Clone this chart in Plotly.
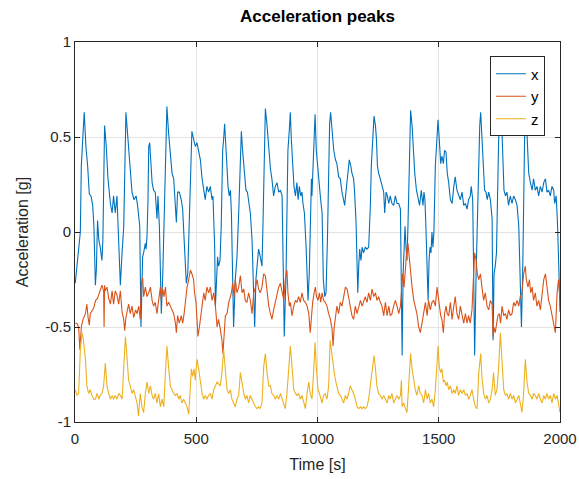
import plotly.graph_objects as go

# ---- data (time [s], acceleration [g]) ----
x_series = [
    (1, -0.27), (8, -0.18), (15, -0.11), (22, 0.0), (26, 0.35), (33, 0.52), (38, 0.63), (45, 0.45),
    (52, 0.35), (59, 0.2), (66, 0.19), (73, 0.14), (78, 0.03), (84, -0.28), (88, -0.2), (93, 0.06),
    (98, -0.04), (104, -0.08), (111, -0.15), (115, -0.04), (122, 0.56), (129, 0.45), (136, 0.28),
    (146, 0.15), (153, 0.1), (159, 0.19), (166, 0.1), (173, 0.19), (177, 0.07), (183, -0.18),
    (187, -0.28), (194, -0.11), (201, 0.03), (210, 0.63), (219, 0.47), (228, 0.36), (235, 0.21),
    (243, 0.17), (252, 0.19), (258, 0.14), (267, 0.03), (272, -0.5), (279, -0.13), (283, -0.11),
    (290, -0.06), (293, -0.09), (297, -0.02), (301, 0.17), (304, 0.45), (308, 0.47), (313, 0.38),
    (318, 0.26), (324, 0.22), (331, 0.21), (338, 0.07), (342, 0.19), (348, 0.03), (352, -0.2),
    (356, -0.43), (362, -0.22), (366, -0.04), (373, 0.35), (379, 0.66), (386, 0.52), (393, 0.42),
    (400, 0.31), (407, 0.28), (414, 0.14), (418, 0.05), (423, 0.21), (430, 0.21), (438, 0.17),
    (444, 0.12), (450, -0.04), (455, -0.22), (459, -0.27), (465, -0.22), (469, -0.04), (476, 0.35),
    (482, 0.53), (489, 0.49), (496, 0.45), (503, 0.47), (510, 0.43), (517, 0.38), (524, 0.28),
    (531, 0.21), (537, 0.17), (544, 0.24), (551, 0.21), (558, 0.24), (565, 0.17), (569, 0.19),
    (572, 0.08), (576, -0.08), (579, -0.39), (583, -0.22), (588, -0.13), (592, -0.18), (598, -0.15),
    (603, 0.03), (609, 0.43), (613, 0.49), (617, 0.57), (623, 0.43), (627, 0.31), (631, 0.24),
    (636, 0.19), (641, 0.22), (645, 0.1), (650, -0.22), (654, -0.5), (661, -0.25), (668, -0.13),
    (675, 0.1), (682, 0.43), (686, 0.53), (691, 0.43), (698, 0.31), (705, 0.22), (711, 0.21),
    (716, 0.17), (723, 0.1), (730, -0.04), (737, -0.36), (741, -0.5), (746, -0.25), (752, -0.13),
    (757, -0.09), (764, -0.13), (771, -0.18), (775, 0.03), (781, 0.49), (785, 0.65), (792, 0.56),
    (799, 0.43), (806, 0.33), (812, 0.28), (819, 0.19), (826, 0.24), (833, 0.26), (840, 0.21),
    (847, 0.22), (854, 0.19), (856, 0.05), (861, -0.36), (863, -0.55), (867, -0.36), (870, -0.25),
    (874, 0.1), (878, 0.43), (884, 0.54), (888, 0.63), (892, 0.49), (898, 0.31), (903, 0.24),
    (909, 0.19), (915, 0.26), (920, 0.17), (925, 0.24), (931, 0.19), (936, 0.21), (940, 0.15),
    (946, 0.1), (953, -0.08), (957, -0.25), (961, -0.36), (966, -0.22), (970, -0.04), (975, 0.28),
    (977, 0.19), (981, 0.31), (986, 0.49), (990, 0.62), (995, 0.43), (1001, 0.33), (1008, 0.22),
    (1013, 0.17), (1019, 0.1), (1024, -0.25), (1030, -0.34), (1035, -0.32), (1041, -0.04),
    (1046, 0.43), (1050, 0.57), (1054, 0.63), (1060, 0.52), (1067, 0.43), (1074, 0.38), (1080, 0.36),
    (1087, 0.29), (1094, 0.28), (1101, 0.21), (1108, 0.17), (1112, 0.14), (1118, 0.22), (1124, 0.31),
    (1131, 0.38), (1137, 0.35), (1142, 0.31), (1149, 0.28), (1153, 0.21), (1159, 0.05), (1162, -0.22),
    (1166, -0.32), (1170, -0.18), (1174, -0.09), (1179, -0.15), (1184, -0.08), (1190, -0.11),
    (1197, -0.08), (1204, -0.09), (1211, -0.08), (1218, 0.14), (1222, 0.35), (1228, 0.49),
    (1233, 0.61), (1239, 0.56), (1243, 0.49), (1247, 0.35), (1252, 0.31), (1259, 0.28), (1266, 0.24),
    (1273, 0.21), (1277, 0.1), (1283, 0.21), (1288, 0.19), (1294, 0.15), (1300, 0.19), (1307, 0.15),
    (1314, 0.14), (1321, 0.19), (1328, 0.15), (1335, 0.15), (1342, 0.12), (1346, -0.22),
    (1349, -0.65), (1353, -0.22), (1357, -0.04), (1361, 0.03), (1365, -0.08), (1369, -0.15),
    (1373, 0.03), (1379, 0.49), (1384, 0.64), (1390, 0.56), (1395, 0.42), (1401, 0.31), (1408, 0.22),
    (1414, 0.19), (1421, 0.14), (1428, 0.22), (1435, 0.14), (1439, 0.21), (1443, 0.17), (1447, 0.03),
    (1452, -0.22), (1456, -0.36), (1460, -0.15), (1464, -0.08), (1468, -0.11), (1472, 0.0),
    (1476, -0.08), (1480, 0.0), (1486, 0.35), (1491, 0.49), (1497, 0.59), (1502, 0.49), (1508, 0.36),
    (1513, 0.4), (1519, 0.36), (1524, 0.43), (1530, 0.42), (1535, 0.31), (1541, 0.26), (1548, 0.17),
    (1555, 0.15), (1562, 0.24), (1568, 0.29), (1575, 0.22), (1582, 0.19), (1589, 0.17), (1596, 0.21),
    (1603, 0.14), (1610, 0.15), (1617, 0.12), (1623, 0.17), (1630, 0.19), (1634, 0.24), (1640, 0.17),
    (1644, -0.22), (1648, -0.65), (1654, -0.22), (1659, 0.14), (1665, 0.35), (1669, 0.56),
    (1673, 0.63), (1678, 0.5), (1684, 0.36), (1689, 0.22), (1695, 0.21), (1700, 0.17), (1706, 0.21),
    (1713, 0.17), (1720, 0.07), (1724, -0.57), (1728, -0.22), (1733, -0.18), (1738, -0.11),
    (1742, 0.14), (1747, 0.49), (1753, 0.61), (1755, 0.63), (1761, 0.52), (1765, 0.35), (1769, 0.22),
    (1775, 0.19), (1781, 0.21), (1788, 0.14), (1795, 0.19), (1802, 0.15), (1809, 0.19), (1816, 0.17),
    (1823, 0.14), (1830, 0.03), (1836, -0.22), (1841, -0.5), (1846, -0.22), (1850, 0.05),
    (1854, 0.49), (1860, 0.63), (1865, 0.49), (1871, 0.31), (1878, 0.26), (1885, 0.22), (1891, 0.28),
    (1898, 0.22), (1905, 0.24), (1912, 0.19), (1919, 0.24), (1926, 0.21), (1933, 0.26), (1940, 0.28),
    (1946, 0.21), (1953, 0.22), (1960, 0.19), (1967, 0.24), (1974, 0.22), (1978, 0.15), (1984, 0.19),
    (1989, 0.07), (1995, -0.18), (2000, -0.42),
]

y_series = [
    (1, -0.48), (8, -0.48), (15, -0.5), (20, -0.62), (26, -0.5), (29, -0.47), (33, -0.46),
    (43, -0.43), (49, -0.38), (54, -0.45), (59, -0.49), (63, -0.43), (77, -0.4), (85, -0.36),
    (93, -0.35), (98, -0.33), (104, -0.31), (111, -0.28), (118, -0.31), (120, -0.5), (122, -0.28),
    (125, -0.31), (132, -0.29), (139, -0.35), (146, -0.38), (153, -0.31), (159, -0.38), (166, -0.31),
    (173, -0.33), (180, -0.38), (187, -0.31), (194, -0.42), (201, -0.46), (205, -0.52), (210, -0.45),
    (216, -0.41), (221, -0.38), (228, -0.43), (235, -0.39), (242, -0.45), (250, -0.41), (256, -0.43),
    (263, -0.39), (269, -0.46), (274, -0.27), (279, -0.24), (283, -0.34), (290, -0.29), (297, -0.34),
    (304, -0.32), (311, -0.29), (318, -0.36), (324, -0.39), (331, -0.37), (338, -0.43), (345, -0.36),
    (352, -0.29), (356, -0.36), (362, -0.3), (367, -0.34), (373, -0.29), (379, -0.39), (386, -0.37),
    (393, -0.39), (400, -0.41), (407, -0.43), (414, -0.48), (418, -0.53), (423, -0.44), (430, -0.48),
    (438, -0.44), (444, -0.48), (450, -0.43), (455, -0.36), (462, -0.29), (469, -0.25), (476, -0.2),
    (482, -0.22), (489, -0.25), (493, -0.32), (499, -0.37), (503, -0.46), (507, -0.55), (513, -0.5),
    (518, -0.43), (524, -0.39), (531, -0.32), (537, -0.36), (544, -0.29), (551, -0.32), (558, -0.29),
    (565, -0.36), (572, -0.32), (579, -0.39), (586, -0.5), (592, -0.46), (599, -0.51), (606, -0.57),
    (610, -0.64), (616, -0.5), (620, -0.44), (627, -0.43), (634, -0.37), (641, -0.34), (645, -0.32),
    (650, -0.27), (656, -0.34), (661, -0.25), (668, -0.32), (675, -0.29), (682, -0.23), (689, -0.32),
    (696, -0.3), (702, -0.36), (709, -0.37), (716, -0.32), (723, -0.36), (730, -0.43), (737, -0.32),
    (744, -0.29), (751, -0.25), (757, -0.3), (764, -0.32), (771, -0.29), (778, -0.22), (785, -0.23),
    (792, -0.32), (799, -0.39), (806, -0.43), (812, -0.46), (819, -0.41), (826, -0.37), (833, -0.32),
    (840, -0.29), (847, -0.27), (854, -0.32), (861, -0.36), (867, -0.25), (870, -0.22), (874, -0.2),
    (878, -0.32), (884, -0.39), (888, -0.37), (895, -0.44), (902, -0.39), (909, -0.36), (915, -0.37),
    (922, -0.34), (929, -0.37), (936, -0.32), (943, -0.36), (950, -0.37), (957, -0.39), (964, -0.43),
    (970, -0.53), (975, -0.44), (980, -0.37), (986, -0.32), (991, -0.29), (996, -0.34), (1002, -0.36),
    (1008, -0.32), (1013, -0.37), (1019, -0.32), (1025, -0.36), (1032, -0.37), (1039, -0.39),
    (1046, -0.43), (1053, -0.46), (1060, -0.51), (1064, -0.6), (1069, -0.5), (1074, -0.44),
    (1080, -0.39), (1087, -0.43), (1094, -0.37), (1101, -0.39), (1108, -0.34), (1115, -0.29),
    (1122, -0.3), (1128, -0.34), (1135, -0.39), (1142, -0.44), (1149, -0.46), (1156, -0.39),
    (1163, -0.43), (1170, -0.39), (1177, -0.36), (1184, -0.39), (1190, -0.36), (1197, -0.34),
    (1204, -0.37), (1211, -0.32), (1218, -0.36), (1225, -0.3), (1232, -0.34), (1239, -0.32),
    (1245, -0.36), (1252, -0.34), (1259, -0.37), (1266, -0.39), (1273, -0.44), (1280, -0.37),
    (1287, -0.44), (1294, -0.39), (1300, -0.44), (1307, -0.43), (1314, -0.39), (1321, -0.36),
    (1328, -0.39), (1335, -0.43), (1342, -0.39), (1346, -0.32), (1351, -0.22), (1357, -0.29),
    (1362, -0.18), (1369, -0.08), (1373, -0.06), (1379, -0.15), (1384, -0.22), (1390, -0.29),
    (1397, -0.36), (1403, -0.39), (1410, -0.43), (1417, -0.5), (1424, -0.53), (1431, -0.48),
    (1438, -0.43), (1445, -0.37), (1452, -0.44), (1458, -0.36), (1465, -0.41), (1472, -0.37),
    (1479, -0.36), (1486, -0.39), (1493, -0.29), (1497, -0.34), (1502, -0.39), (1508, -0.44),
    (1513, -0.46), (1519, -0.53), (1524, -0.43), (1530, -0.39), (1535, -0.43), (1541, -0.44),
    (1548, -0.37), (1555, -0.46), (1562, -0.39), (1568, -0.34), (1575, -0.43), (1582, -0.46),
    (1589, -0.39), (1596, -0.44), (1603, -0.48), (1610, -0.43), (1617, -0.48), (1623, -0.44),
    (1630, -0.48), (1637, -0.41), (1644, -0.25), (1648, -0.11), (1654, -0.15), (1659, -0.22),
    (1665, -0.25), (1672, -0.22), (1678, -0.29), (1685, -0.36), (1692, -0.32), (1699, -0.39),
    (1706, -0.41), (1713, -0.36), (1720, -0.38), (1724, -0.55), (1728, -0.5), (1733, -0.53),
    (1739, -0.48), (1744, -0.44), (1750, -0.43), (1755, -0.48), (1761, -0.39), (1768, -0.44),
    (1775, -0.43), (1781, -0.46), (1788, -0.41), (1795, -0.44), (1802, -0.43), (1809, -0.37),
    (1816, -0.39), (1823, -0.36), (1830, -0.39), (1836, -0.34), (1843, -0.32), (1850, -0.22),
    (1857, -0.18), (1861, -0.25), (1868, -0.29), (1874, -0.25), (1879, -0.32), (1885, -0.29),
    (1891, -0.36), (1898, -0.32), (1905, -0.39), (1912, -0.36), (1919, -0.41), (1926, -0.32),
    (1933, -0.25), (1940, -0.22), (1946, -0.29), (1953, -0.36), (1960, -0.39), (1967, -0.44),
    (1974, -0.48), (1981, -0.53), (1988, -0.32), (1994, -0.25), (2000, -0.36),
]

z_series = [
    (1, -0.83), (8, -0.86), (15, -0.85), (22, -0.62), (29, -0.53), (34, -0.56), (43, -0.67),
    (49, -0.81), (56, -0.85), (62, -0.83), (70, -0.86), (77, -0.88), (84, -0.88), (91, -0.85),
    (98, -0.88), (104, -0.86), (111, -0.85), (118, -0.81), (125, -0.69), (132, -0.81), (139, -0.85),
    (146, -0.88), (153, -0.86), (159, -0.88), (166, -0.86), (173, -0.88), (180, -0.85), (187, -0.86),
    (194, -0.88), (201, -0.74), (208, -0.55), (214, -0.65), (221, -0.78), (228, -0.81), (235, -0.85),
    (242, -0.83), (249, -0.86), (256, -0.9), (262, -0.97), (269, -0.85), (276, -0.92), (283, -0.95),
    (290, -0.85), (297, -0.79), (304, -0.85), (311, -0.81), (318, -0.86), (324, -0.88), (331, -0.85),
    (338, -0.9), (345, -0.85), (352, -0.92), (359, -0.88), (366, -0.92), (373, -0.74), (379, -0.6),
    (386, -0.71), (393, -0.81), (400, -0.83), (407, -0.85), (414, -0.86), (421, -0.85), (428, -0.88),
    (434, -0.86), (441, -0.9), (448, -0.88), (455, -0.9), (462, -0.92), (469, -0.96), (476, -0.81),
    (480, -0.72), (485, -0.76), (491, -0.72), (496, -0.78), (503, -0.67), (510, -0.72), (517, -0.79),
    (524, -0.85), (531, -0.88), (537, -0.86), (544, -0.88), (551, -0.86), (558, -0.85), (565, -0.88),
    (572, -0.83), (579, -0.81), (586, -0.79), (599, -0.81), (606, -0.74), (613, -0.62), (620, -0.72),
    (627, -0.83), (634, -0.85), (641, -0.83), (647, -0.88), (654, -0.9), (661, -0.92), (668, -0.88),
    (675, -0.86), (682, -0.74), (689, -0.81), (696, -0.85), (702, -0.88), (709, -0.86), (716, -0.9),
    (723, -0.86), (730, -0.88), (737, -0.9), (744, -0.92), (751, -0.93), (757, -0.92), (764, -0.93),
    (771, -0.9), (778, -0.71), (785, -0.64), (792, -0.74), (799, -0.81), (806, -0.81), (812, -0.85),
    (819, -0.86), (826, -0.88), (833, -0.86), (840, -0.88), (847, -0.85), (854, -0.88), (861, -0.9),
    (867, -0.93), (874, -0.85), (881, -0.71), (888, -0.6), (895, -0.71), (902, -0.83), (909, -0.85),
    (915, -0.86), (922, -0.85), (929, -0.88), (936, -0.86), (943, -0.9), (950, -0.93), (957, -0.85),
    (964, -0.79), (970, -0.85), (977, -0.88), (984, -0.74), (990, -0.58), (995, -0.71), (1002, -0.83),
    (1008, -0.85), (1013, -0.88), (1019, -0.9), (1025, -0.86), (1032, -0.85), (1039, -0.88),
    (1046, -0.81), (1052, -0.57), (1060, -0.67), (1067, -0.72), (1074, -0.78), (1080, -0.81),
    (1087, -0.85), (1094, -0.86), (1101, -0.88), (1108, -0.9), (1115, -0.86), (1122, -0.88),
    (1128, -0.85), (1135, -0.81), (1142, -0.83), (1149, -0.85), (1156, -0.88), (1163, -0.92),
    (1170, -0.93), (1177, -0.92), (1184, -0.93), (1190, -0.92), (1197, -0.93), (1204, -0.92),
    (1211, -0.88), (1218, -0.81), (1225, -0.72), (1233, -0.65), (1239, -0.72), (1245, -0.81),
    (1252, -0.85), (1259, -0.86), (1266, -0.88), (1273, -0.86), (1280, -0.88), (1287, -0.9),
    (1294, -0.86), (1300, -0.88), (1307, -0.85), (1314, -0.9), (1321, -0.88), (1328, -0.86),
    (1335, -0.88), (1342, -0.86), (1346, -0.78), (1349, -0.92), (1355, -0.9), (1362, -0.93),
    (1369, -0.95), (1376, -0.81), (1384, -0.64), (1390, -0.72), (1397, -0.79), (1403, -0.83),
    (1410, -0.86), (1417, -0.81), (1424, -0.85), (1431, -0.86), (1438, -0.9), (1445, -0.83),
    (1452, -0.88), (1458, -0.85), (1465, -0.9), (1472, -0.88), (1479, -0.92), (1486, -0.83),
    (1493, -0.69), (1497, -0.6), (1502, -0.71), (1508, -0.74), (1513, -0.72), (1519, -0.79),
    (1524, -0.78), (1530, -0.81), (1535, -0.79), (1541, -0.83), (1548, -0.81), (1555, -0.85),
    (1562, -0.83), (1568, -0.85), (1575, -0.81), (1582, -0.86), (1589, -0.83), (1596, -0.85),
    (1603, -0.83), (1610, -0.86), (1617, -0.85), (1623, -0.88), (1630, -0.86), (1637, -0.83),
    (1644, -0.88), (1651, -0.92), (1658, -0.93), (1665, -0.74), (1673, -0.64), (1678, -0.76),
    (1685, -0.85), (1692, -0.88), (1699, -0.86), (1706, -0.9), (1713, -0.88), (1720, -0.83),
    (1726, -0.74), (1733, -0.86), (1740, -0.83), (1747, -0.71), (1754, -0.53), (1761, -0.67),
    (1768, -0.83), (1775, -0.86), (1781, -0.85), (1788, -0.88), (1795, -0.85), (1802, -0.88),
    (1809, -0.86), (1816, -0.9), (1823, -0.88), (1830, -0.86), (1836, -0.9), (1843, -0.95),
    (1850, -0.85), (1857, -0.67), (1864, -0.79), (1871, -0.85), (1878, -0.86), (1885, -0.88),
    (1891, -0.85), (1898, -0.86), (1905, -0.88), (1912, -0.85), (1919, -0.88), (1926, -0.9),
    (1933, -0.86), (1940, -0.88), (1946, -0.85), (1953, -0.88), (1960, -0.86), (1967, -0.9),
    (1974, -0.85), (1981, -0.88), (1988, -0.86), (1994, -0.92), (2000, -0.95),
]

series_names = ["x", "y", "z"]
series_colors = ["#0072BD", "#D95319", "#EDB120"]
x_ticks = [0, 500, 1000, 1500, 2000]
y_ticks = [-1, -0.5, 0, 0.5, 1]
y_tick_text = ["-1", "-0.5", "0", "0.5", "1"]

FONT = "Liberation Sans, Arial, Helvetica, sans-serif"
INK = "#262626"

fig = go.Figure()
for name, data, color in zip(series_names, [x_series, y_series, z_series], series_colors):
    t_vals = [p[0] for p in data]
    a_vals = [p[1] for p in data]
    fig.add_trace(go.Scatter(x=t_vals, y=a_vals, mode="lines", name=name,
                             line=dict(color=color, width=1.1)))

axis_common = dict(showline=True, linecolor=INK, linewidth=1, mirror="ticks",
                   ticks="inside", ticklen=5, tickcolor=INK, tickwidth=1,
                   showgrid=True, gridcolor="#e3e3e3", gridwidth=1, zeroline=False,
                   automargin=False,
                   tickfont=dict(family=FONT, size=15, color=INK))

fig.update_layout(
    width=579, height=479,
    margin=dict(l=75, r=19, t=42, b=57),
    paper_bgcolor="white", plot_bgcolor="white",
    title=dict(text="<b>Acceleration peaks</b>", x=0.5, xref="paper", xanchor="center",
               y=1 - 16 / 479, yref="container", yanchor="middle",
               font=dict(family=FONT, size=17, color="black")),
    xaxis=dict(range=[0, 2000], tickvals=x_ticks, ticklabelstandoff=3,
               title=dict(text="Time [s]", font=dict(family=FONT, size=16, color=INK), standoff=12),
               **axis_common),
    yaxis=dict(range=[-1, 1], tickvals=y_ticks, ticktext=y_tick_text,
               title=dict(text="Acceleration [g]", font=dict(family=FONT, size=16, color=INK), standoff=12),
               **axis_common),
    legend=dict(x=0.969, xanchor="right", y=0.962, yanchor="top",
                bgcolor="white", bordercolor=INK, borderwidth=1,
                font=dict(family=FONT, size=15, color="black"),
                tracegroupgap=0, itemwidth=30),
    showlegend=True,
)

fig.write_html("out.html")
